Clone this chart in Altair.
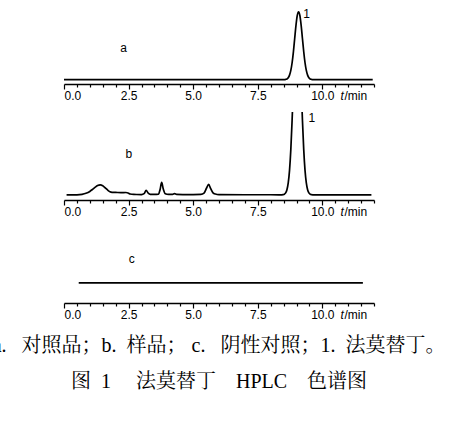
import altair as alt
import pandas as pd

# ---- chromatogram traces: retention time (min) and detector response ----
# a: reference standard
t_ref = [0.00, 8.40, 8.48, 8.53, 8.58, 8.63, 8.68, 8.73, 8.78, 8.83, 8.88, 8.93, 8.98, 9.03,
         9.08, 9.13, 9.18, 9.23, 9.28, 9.33, 9.38, 9.43, 9.48, 9.53, 9.58, 9.63, 9.68, 9.80, 11.95]
s_ref = [0, 0, 0.03, 0.1, 0.4, 1.0, 2.7, 6.2, 12.7, 23.3, 38.4, 56.7, 74.9, 88.5,
         93.5, 88.5, 74.9, 56.7, 38.4, 23.3, 12.7, 6.2, 2.7, 1.0, 0.4, 0.1, 0.03, 0, 0]

# b: sample
t_sample = [0.10, 0.50, 0.70, 0.85, 1.00, 1.10, 1.20, 1.30, 1.40, 1.50, 1.60, 1.70, 1.78, 1.86,
            2.00, 2.20, 2.40, 2.48, 2.56, 2.70, 3.00, 3.10, 3.18, 3.26, 3.34, 3.50, 3.66, 3.72,
            3.78, 3.84, 3.92, 4.05, 4.20, 4.28, 4.36, 4.60, 5.00, 5.30, 5.42, 5.52, 5.60, 5.68,
            5.76, 5.86, 6.00, 7.00, 8.00, 8.43, 8.48, 8.53, 8.58, 8.63, 8.68, 8.73, 8.78, 8.83,
            8.88, 8.93, 8.98, 9.03, 9.08, 9.13, 9.18, 9.23, 9.28, 9.33, 9.38, 9.43, 9.48, 9.53,
            9.58, 9.63, 9.80, 11.90]
s_sample = [0, 0.1, 0.8, 2.2, 4.8, 7.5, 10.3, 12.8, 13.8, 12.6, 9.6, 6.3, 4.2, 3.5,
            3.4, 3.2, 3.3, 2.6, 1.2, 0.6, 0.5, 1.8, 6.2, 2.6, 0.8, 0.6, 1.0, 7.5,
            17.2, 8.5, 1.6, 0.6, 0.8, 1.8, 0.7, 0.5, 0.5, 0.7, 2.5, 9.5, 14.4, 8.5,
            3.2, 1.2, 0.4, 0.2, 0.2, 0.1, 0.3, 1.0, 2.8, 7.1, 16.5, 33.8, 62.3, 102.7,
            151.6, 200.3, 236.6, 250.0, 236.6, 200.3, 151.6, 102.7, 62.3, 33.8, 16.5, 7.1, 2.8, 1.0,
            0.3, 0.1, 0.1, 0.1]

# c: negative control (blank)
t_blank = [0.57, 11.57]
s_blank = [0.0, 0.0]

# ---- axis ticks ----
major_ticks = [0, 2.5, 5, 7.5, 10]
minor_ticks = [0.5, 1.0, 1.5, 2.0, 3.0, 3.5, 4.0, 4.5, 5.5, 6.0, 6.5, 7.0,
               8.0, 8.5, 9.0, 9.5, 10.5, 11.0, 11.5, 12.0]

# ---- text ----
panel_tags = ["a", "b", "c"]
peak_tag = "1"
NB = "\u00a0"
caption_1 = ("a." + NB * 3 + "对照品；b." + NB * 2 + "样品；" + NB + "c." + NB * 3
             + "阴性对照；1." + NB * 2 + "法莫替丁。")
caption_2 = ("图" + NB * 2 + "1" + NB * 5 + "法莫替丁" + NB * 4 + "HPLC" + NB * 4 + "色谱图")

SANS = "Liberation Sans Narrow, Liberation Sans, Arial, sans-serif"
SERIF = "Liberation Serif, Noto Serif CJK SC, Noto Sans CJK SC, serif"
PANEL_W = 310
X_SCALE = alt.Scale(domain=[0, 12], nice=False, zero=False)


def trace_panel(t, s, y_domain, height, labels):
    """One chromatogram with its own time axis (major + minor ticks)."""
    data = pd.DataFrame({"t": t, "s": s})
    y_scale = alt.Scale(domain=y_domain, nice=False, zero=False)

    major_axis = alt.Axis(values=major_ticks, format=".1f", orient="bottom",
                          tickSize=5, labelPadding=10, labelBaseline="alphabetic",
                          title="t", titleX=276, titleY=15, titleAlign="left",
                          titleBaseline="alphabetic", titleFontStyle="italic")
    minor_axis = alt.Axis(values=minor_ticks, orient="bottom", labels=False,
                          domain=False, tickSize=3,
                          title="/min", titleX=280, titleY=15, titleAlign="left",
                          titleBaseline="alphabetic")

    trace = alt.Chart(data).mark_line(
        color="black", strokeWidth=1.7, interpolate="monotone", clip=True
    ).encode(
        x=alt.X("t:Q", scale=X_SCALE, axis=major_axis),
        y=alt.Y("s:Q", scale=y_scale, axis=None),
    )
    minor = alt.Chart(data).mark_line(strokeOpacity=0).encode(
        x=alt.X("t:Q", scale=X_SCALE, axis=minor_axis),
        y=alt.Y("s:Q", scale=y_scale, axis=None),
    )
    tags = pd.DataFrame(labels, columns=["t", "s", "txt"])
    text = alt.Chart(tags).mark_text(
        font=SANS, fontSize=12, color="black"
    ).encode(
        x=alt.X("t:Q", scale=X_SCALE, axis=None),
        y=alt.Y("s:Q", scale=y_scale, axis=None),
        text="txt:N",
    )
    return (alt.layer(trace, minor, text)
            .resolve_axis(x="independent")
            .properties(width=PANEL_W, height=height))


panel_a = trace_panel(t_ref, s_ref, [-6, 96], 74,
                      [(2.31, 43.6, panel_tags[0]), (9.39, 90.5, peak_tag)])
panel_b = trace_panel(t_sample, s_sample, [-7, 114], 88,
                      [(2.51, 56.2, panel_tags[1]), (9.59, 105.7, peak_tag)])
panel_c = trace_panel(t_blank, s_blank, [-19.5, 53.5], 75,
                      [(2.62, 23.8, panel_tags[2])])

chart = alt.vconcat(panel_a, panel_b, panel_c, spacing=28, bounds="flush").properties(
    title=alt.TitleParams(
        text=caption_1, subtitle=caption_2, orient="bottom", anchor="middle",
        font=SERIF, fontSize=20, fontWeight="normal", color="black",
        subtitleFont=SERIF, subtitleFontSize=20, subtitleColor="black",
        subtitlePadding=16, offset=16,
    ),
    autosize=alt.AutoSizeParams(type="none"),
    padding={"left": 64, "top": 10, "right": 100, "bottom": 416},
).configure_view(stroke=None).configure_axis(
    grid=False, labelFont=SANS, labelFontSize=12, labelColor="black",
    tickColor="black", tickWidth=1.2, domainColor="black", domainWidth=1.5,
    titleFont=SANS, titleFontSize=12, titleFontWeight="normal", titleColor="black",
)

chart.save("out.html", embed_options={"renderer": "svg", "actions": False})
